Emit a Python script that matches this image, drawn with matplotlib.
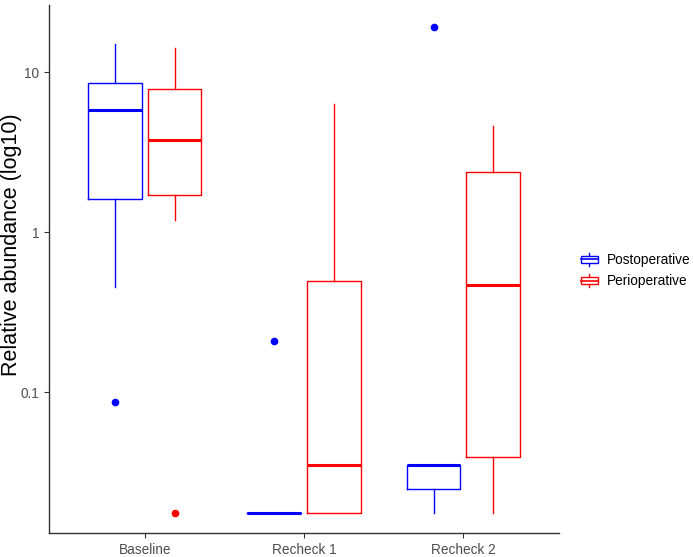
import matplotlib
matplotlib.use("Agg")
import matplotlib.pyplot as plt
from matplotlib.legend_handler import HandlerBase
from matplotlib.lines import Line2D
from matplotlib.patches import Rectangle

plt.rcParams['font.family'] = ['Liberation Sans', 'DejaVu Sans']

groups = ["Baseline", "Recheck 1", "Recheck 2"]
series = ["Postoperative", "Perioperative"]
colors = ["#0000FF", "#FF0000"]

# box summaries (relative abundance)
post_lo = [0.456, 0.0177, 0.0177]
post_q1 = [1.62, 0.0177, 0.0249]
post_med = [5.83, 0.0177, 0.0352]
post_q3 = [8.6, 0.0177, 0.0352]
post_hi = [15.1, 0.0177, 0.0352]
post_out = [[0.087], [0.21], [19.2]]

peri_lo = [1.20, 0.0177, 0.0177]
peri_q1 = [1.72, 0.0177, 0.0395]
peri_med = [3.79, 0.0352, 0.47]
peri_q3 = [7.88, 0.497, 2.39]
peri_hi = [14.2, 6.35, 4.63]
peri_out = [[0.0177], [], []]


def make_stats(lo, q1, med, q3, hi, out):
    return [dict(whislo=a, q1=b, med=c, q3=d, whishi=e, fliers=f)
            for a, b, c, d, e, f in zip(lo, q1, med, q3, hi, out)]


class BoxKey(HandlerBase):
    # small boxplot glyph like the ggplot legend key
    def create_artists(self, legend, orig_handle, xdescent, ydescent,
                       width, height, fontsize, trans):
        c = orig_handle.get_edgecolor()
        x0, y0 = -xdescent, -ydescent
        xm = x0 + width / 2
        bl, bt = y0 + height * 0.2, y0 + height * 0.8
        box = Rectangle((x0, bl), width, bt - bl, facecolor="white",
                        edgecolor=c, lw=1.0, transform=trans)
        med = Line2D([x0, x0 + width], [y0 + height / 2] * 2, color=c, lw=1.2, transform=trans)
        w1 = Line2D([xm, xm], [y0 - height * 0.05, bl], color=c, lw=1.0, transform=trans)
        w2 = Line2D([xm, xm], [bt, y0 + height * 1.05], color=c, lw=1.0, transform=trans)
        return [w1, w2, box, med]


fig = plt.figure(figsize=(6.93, 5.57), dpi=100)
ax = fig.add_axes([0.0707, 0.0431, 0.736, 0.948])

offsets = [-0.1875, 0.1875]
all_stats = [
    make_stats(post_lo, post_q1, post_med, post_q3, post_hi, post_out),
    make_stats(peri_lo, peri_q1, peri_med, peri_q3, peri_hi, peri_out),
]
handles = []
for stats, off, c, name in zip(all_stats, offsets, colors, series):
    pos = [i + 1 + off for i in range(len(groups))]
    ax.bxp(stats, positions=pos, widths=0.3375, showcaps=False,
           boxprops=dict(color=c, linewidth=1.0),
           medianprops=dict(color=c, linewidth=2.2, solid_capstyle="butt"),
           whiskerprops=dict(color=c, linewidth=1.0),
           flierprops=dict(marker="o", markerfacecolor=c, markeredgecolor=c,
                           markersize=4.5, linestyle="none"))
    handles.append(Rectangle((0, 0), 1, 1, edgecolor=c, facecolor="none", label=name))

ax.set_yscale("log")
ax.set_ylim(0.01324, 26.4)
ax.set_xlim(0.4, 3.6)
ax.set_yticks([0.1, 1, 10])
ax.set_yticklabels(["0.1", "1", "10"])
ax.minorticks_off()
ax.set_xticks([1, 2, 3])
ax.set_xticklabels(groups)
ax.tick_params(labelsize=9.8, labelcolor="#4d4d4d", color="#333333", length=3.5, width=0.8)
for s in ["top", "right"]:
    ax.spines[s].set_visible(False)
for s in ["left", "bottom"]:
    ax.spines[s].set_linewidth(1.0)
    ax.spines[s].set_color("#333333")

fig.text(12 / 693, 1 - 245 / 557, "Relative abundance (log10)", fontsize=15.5,
         rotation=90, ha="center", va="center")

fig.legend(handles=handles, loc="center left", bbox_to_anchor=(0.820, 0.514),
           frameon=False, fontsize=9.8, handlelength=1.3, handleheight=1.0,
           handletextpad=0.65, labelspacing=0.55,
           handler_map={Rectangle: BoxKey()})

fig.savefig("out.png", dpi=100)
